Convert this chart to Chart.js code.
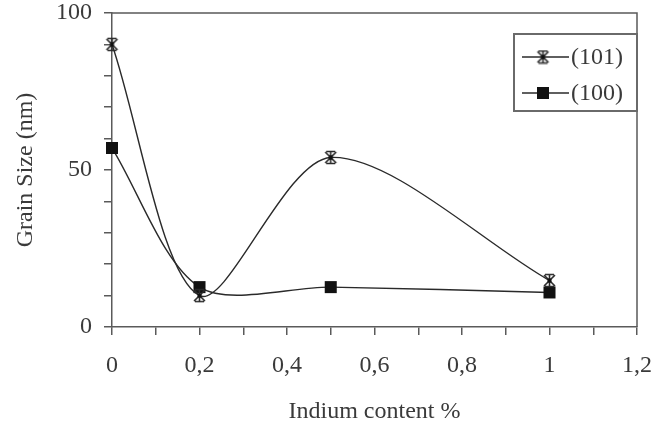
<!DOCTYPE html>
<html>
<head>
<meta charset="utf-8">
<script src="https://cdn.jsdelivr.net/npm/chart.js@4.4.1/dist/chart.umd.min.js"></script>
<style>
  html, body { margin: 0; padding: 0; background: #fff; }
  #wrap { width: 655px; height: 430px; }
</style>
</head>
<body>
<div id="wrap"><canvas id="grain_canvas" width="655" height="430"></canvas></div>
<script>
	// values
	var indium   = [0, 0.2, 0.5, 1];
	var size101  = [90, 10, 54, 14.8];
	var size100  = [57, 12.7, 12.7, 11];
	var seriesLabels = ['(101)', '(100)'];
	var xTickLabels  = ['0', '0,2', '0,4', '0,6', '0,8', '1', '1,2'];
	var yTickLabels  = ['0', '50', '100'];

	var INK = '#2a2a2a';
	var AXIS = '#5a5a5a';
	var TXT = '#3a3a3a';
	var FONT = '"Liberation Serif", "DejaVu Serif", serif';

	function toPoints(xs, ys){
		return xs.map(function(x, i){ return {x: x, y: ys[i]}; });
	}

	// excel style star marker: an X with little caps
	function makeStar(){
		var c = document.createElement('canvas');
		c.width = 15; c.height = 15;
		var g = c.getContext('2d');
		g.strokeStyle = INK;
		g.lineWidth = 1.6;
		g.beginPath();
		g.moveTo(2, 2); g.lineTo(13, 13);
		g.moveTo(13, 2); g.lineTo(2, 13);
		g.moveTo(3, 1.5); g.lineTo(12, 1.5);
		g.moveTo(3, 13.5); g.lineTo(12, 13.5);
		g.moveTo(7.5, 2); g.lineTo(7.5, 13);
		g.stroke();
		g.fillStyle = '#111';
		g.fillRect(5.5, 5.5, 4, 4);
		return c;
	}
	var starMark = makeStar();

	// frame (top / right) + legend box like the excel one
	var framePlugin = {
		id: 'frameAndLegend',
		afterDraw: function(chart){
			var ctx = chart.ctx;
			var a = chart.chartArea;
			ctx.save();
			ctx.strokeStyle = AXIS;
			ctx.lineWidth = 1.5;
			ctx.beginPath();
			ctx.moveTo(a.left, a.top);
			ctx.lineTo(a.right, a.top);
			ctx.lineTo(a.right, a.bottom);
			ctx.stroke();

			// legend
			var bx = 514, by = 34, bw = a.right - 514, bh = 77;
			ctx.fillStyle = '#fff';
			ctx.fillRect(bx, by, bw, bh);
			ctx.strokeStyle = '#6a6a6a';
			ctx.lineWidth = 2;
			ctx.strokeRect(bx, by, bw, bh);

			chart.data.datasets.forEach(function(ds, i){
				var cy = by + 23 + i * 36;
				ctx.strokeStyle = INK;
				ctx.lineWidth = 1.3;
				ctx.beginPath();
				ctx.moveTo(bx + 8, cy);
				ctx.lineTo(bx + 55, cy);
				ctx.stroke();
				if(ds.pointStyle === 'rect'){
					ctx.fillStyle = ds.pointBackgroundColor;
					ctx.fillRect(bx + 29 - 6, cy - 6, 12, 12);
				}else{
					ctx.drawImage(starMark, bx + 29 - 7.5, cy - 7.5);
				}
				ctx.fillStyle = TXT;
				ctx.font = '24px ' + FONT;
				ctx.textAlign = 'left';
				ctx.textBaseline = 'middle';
				ctx.fillText(ds.label, bx + 57, cy + 1);
			});
			ctx.restore();
		}
	};

	var ctx = document.getElementById('grain_canvas').getContext('2d');

	new Chart(ctx, {
		type: 'scatter',
		data: {
			datasets: [{
				label: seriesLabels[0],
				data: toPoints(indium, size101),
				showLine: true,
				clip: false,
				tension: 0.3,
				borderColor: INK,
				borderWidth: 1.4,
				pointStyle: starMark,
				pointRadius: 7,
				pointBorderColor: INK,
				pointBackgroundColor: INK
			}, {
				label: seriesLabels[1],
				data: toPoints(indium, size100),
				showLine: true,
				clip: false,
				tension: 0.3,
				borderColor: INK,
				borderWidth: 1.4,
				pointStyle: 'rect',
				pointRadius: 8.5,
				pointBorderWidth: 0,
				pointBorderColor: '#111',
				pointBackgroundColor: '#111'
			}]
		},
		options: {
			responsive: false,
			animation: false,
			layout: { padding: { top: 13, right: 18, left: 0, bottom: 0 } },
			plugins: {
				legend: { display: false },
				tooltip: { enabled: false }
			},
			scales: {
				x: {
					type: 'linear',
					min: 0,
					max: 1.2,
					afterFit: function(scale){
						scale.height = 103;
						scale.paddingLeft = 0;
						scale.paddingRight = 0;
					},
					ticks: {
						stepSize: 0.1,
						autoSkip: false,
						maxRotation: 0,
						padding: 16,
						color: TXT,
						font: { family: FONT, size: 24 },
						callback: function(v){
							var t = Math.round(v * 10);
							return t % 2 === 0 ? xTickLabels[t / 2] : '';
						}
					},
					grid: { drawOnChartArea: false, drawTicks: true, tickLength: 8, color: AXIS, lineWidth: 1.5 },
					border: { color: AXIS, width: 1.5 },
					title: {
						display: true,
						text: 'Indium content %',
						color: TXT,
						font: { family: FONT, size: 24 },
						padding: { top: 0, bottom: 4 }
					}
				},
				y: {
					min: 0,
					max: 100,
					afterFit: function(scale){
						scale.width = 112;
						scale.paddingTop = 0;
						scale.paddingBottom = 0;
					},
					ticks: {
						stepSize: 10,
						autoSkip: false,
						padding: 12,
						color: TXT,
						font: { family: FONT, size: 24 },
						callback: function(v){
							return v % 50 === 0 ? yTickLabels[v / 50] : '';
						}
					},
					grid: { drawOnChartArea: false, drawTicks: true, tickLength: 8, color: AXIS, lineWidth: 1.5 },
					border: { color: AXIS, width: 1.5 },
					title: {
						display: true,
						text: 'Grain Size (nm)',
						color: TXT,
						font: { family: FONT, size: 24 },
						padding: { top: 11, bottom: 0 }
					}
				}
			}
		},
		plugins: [framePlugin]
	});
</script>
</body>
</html>
